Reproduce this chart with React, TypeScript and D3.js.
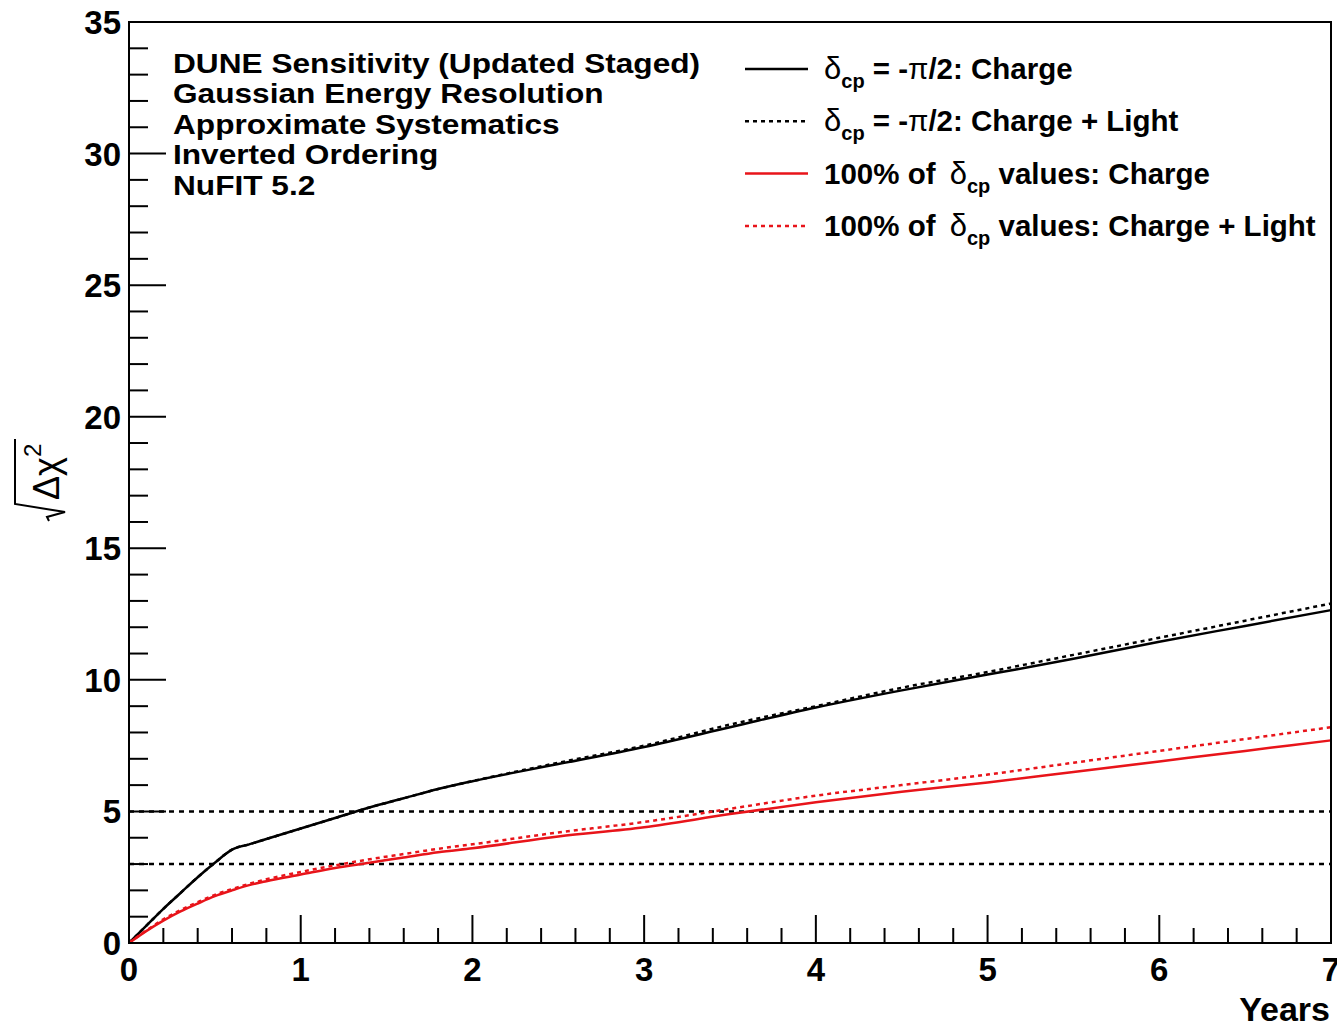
import React from 'react';
import * as d3 from 'd3';

// years of exposure
const years = [0, 0.1, 0.2, 0.3, 0.4, 0.5, 0.6, 0.7, 0.8, 1.0, 1.2, 1.4, 1.6, 1.8, 2.0, 2.5, 3.0, 3.5, 4.0, 4.5, 5.0, 5.5, 6.0, 6.5, 7.0];

const cpChargeVals =      [0, 0.65, 1.3, 1.9, 2.5, 3.05, 3.55, 3.75, 3.95, 4.35, 4.75, 5.15, 5.5, 5.85, 6.15, 6.8, 7.45, 8.2, 8.95, 9.6, 10.2, 10.8, 11.45, 12.05, 12.65];
const cpChargeLightVals = [0, 0.65, 1.3, 1.9, 2.5, 3.05, 3.55, 3.75, 3.95, 4.35, 4.75, 5.15, 5.5, 5.85, 6.15, 6.85, 7.5, 8.3, 9.0, 9.7, 10.3, 10.95, 11.6, 12.25, 12.9];
const allChargeVals =      [0, 0.45, 0.85, 1.2, 1.5, 1.78, 2.0, 2.2, 2.35, 2.6, 2.85, 3.05, 3.25, 3.45, 3.6, 4.05, 4.4, 4.9, 5.35, 5.75, 6.1, 6.5, 6.9, 7.3, 7.7];
const allChargeLightVals = [0, 0.47, 0.9, 1.25, 1.55, 1.83, 2.05, 2.25, 2.42, 2.7, 2.95, 3.18, 3.38, 3.58, 3.75, 4.2, 4.6, 5.1, 5.6, 6.0, 6.4, 6.85, 7.3, 7.75, 8.2];

const infoLines = [
  'DUNE Sensitivity (Updated Staged)',
  'Gaussian Energy Resolution',
  'Approximate Systematics',
  'Inverted Ordering',
  'NuFIT 5.2',
];

const thresholds = [3, 5];

const series = [
  { name: 'cpCharge', vals: cpChargeVals, color: '#000', dash: null, pre: '', post: ' = -', tail: '/2: Charge' },
  { name: 'cpChargeLight', vals: cpChargeLightVals, color: '#000', dash: '4 4', pre: '', post: ' = -', tail: '/2: Charge + Light' },
  { name: 'allCharge', vals: allChargeVals, color: '#e8141a', dash: null, pre: '100% of  ', post: ' values: Charge', tail: '' },
  { name: 'allChargeLight', vals: allChargeLightVals, color: '#e8141a', dash: '4 4', pre: '100% of  ', post: ' values: Charge + Light', tail: '' },
];

const W = 1337, H = 1027;
const left = 129, right = 1331, top = 22, bottom = 943;
const font = '"Liberation Sans", Arial, Helvetica, sans-serif';

export default function App() {
  const x = d3.scaleLinear().domain([0, 7]).range([left, right]);
  const y = d3.scaleLinear().domain([0, 35]).range([bottom, top]);

  const line = d3.line<number>()
    .x((d, i) => x(years[i]))
    .y(d => y(d))
    .curve(d3.curveMonotoneX);

  const xMinor = d3.range(0, 36).map(i => i * 0.2);
  const yMinor = d3.range(0, 36);

  return (
    <svg width={W} height={H} style={{ position: 'absolute', left: 0, top: 0, background: '#fff' }}>
      <rect x={0} y={0} width={W} height={H} fill="#fff" />
      {/* threshold lines */}
      {thresholds.map(t => (
        <line key={t} x1={left} x2={right} y1={y(t)} y2={y(t)} stroke="#000" strokeWidth={2.5} strokeDasharray="5 5" />
      ))}

      {/* curves */}
      {series.map(s => (
        <path key={s.name} d={line(s.vals) || ''} fill="none" stroke={s.color} strokeWidth={2.5}
          strokeDasharray={s.dash || undefined} />
      ))}

      {/* frame */}
      <rect x={left} y={top} width={right - left} height={bottom - top} fill="none" stroke="#000" strokeWidth={2} />

      {/* x ticks */}
      {xMinor.map((v, i) => {
        const major = i % 5 === 0;
        return <line key={'xt' + i} x1={x(v)} x2={x(v)} y1={bottom} y2={bottom - (major ? 28 : 15)} stroke="#000" strokeWidth={2} />;
      })}
      {d3.range(0, 8).map(v => (
        <text key={'xl' + v} x={x(v)} y={981} textAnchor="middle" fontFamily={font} fontWeight="bold" fontSize={33}>{v}</text>
      ))}

      {/* y ticks */}
      {yMinor.map(v => {
        const major = v % 5 === 0;
        return <line key={'yt' + v} x1={left} x2={left + (major ? 37 : 19)} y1={y(v)} y2={y(v)} stroke="#000" strokeWidth={2} />;
      })}
      {d3.range(0, 36, 5).map(v => (
        <text key={'yl' + v} x={121} y={y(v) + 12} textAnchor="end" fontFamily={font} fontWeight="bold" fontSize={33}>{v}</text>
      ))}

      {/* axis titles */}
      <text x={1330} y={1021} textAnchor="end" fontFamily={font} fontWeight="bold" fontSize={34}>Years</text>
      <g transform="translate(63,476) rotate(-90)">
        <path d="M37,-48 L-28,-48 L-36,2 L-41,-16 L-45,-14" fill="none" stroke="#000" strokeWidth={2} />
        <text x={-24} y={-4} fontFamily={font} fontSize={36}>
          {'\u0394\u03c7'}
          <tspan dy={-18} fontSize={24}>2</tspan>
        </text>
      </g>

      {/* info text */}
      {infoLines.map((t, i) => (
        <text key={t} x={173} y={73 + i * 30.5} fontFamily={font} fontWeight="bold" fontSize={28}
          transform={`translate(173,0) scale(1.13,1) translate(-173,0)`}>{t}</text>
      ))}

      {/* legend */}
      {series.map((s, i) => {
        const ly = 69 + i * 52.3;
        return (
          <g key={'lg' + s.name}>
            <line x1={745} x2={808} y1={ly} y2={ly} stroke={s.color} strokeWidth={2.5} strokeDasharray={s.dash || undefined} />
            <text x={824} y={ly + 10} fontFamily={font} fontWeight="bold" fontSize={29.5}>
              {s.pre}
              {s.pre ? <tspan dx={6} fontWeight="normal" fontSize={31}>{'\u03b4'}</tspan> : <tspan fontWeight="normal" fontSize={31}>{'\u03b4'}</tspan>}
              <tspan dy={9} fontSize={20}>cp</tspan>
              <tspan dy={-9}>{s.post}</tspan>
              {s.tail ? <tspan fontWeight="normal">{'\u03c0'}</tspan> : null}
              {s.tail ? <tspan>{s.tail}</tspan> : null}
            </text>
          </g>
        );
      })}
    </svg>
  );
}
